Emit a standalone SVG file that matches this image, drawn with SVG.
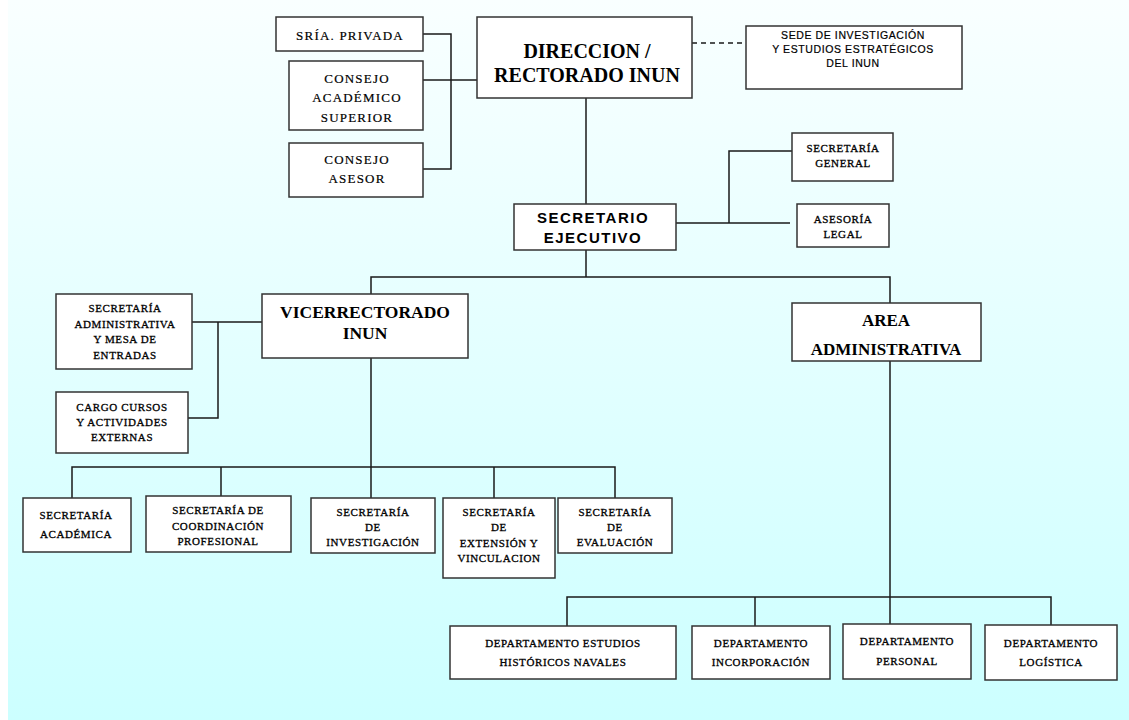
<svg xmlns="http://www.w3.org/2000/svg" width="1129" height="720" viewBox="0 0 1129 720">
  <defs>
    <linearGradient id="bg" x1="0" y1="0" x2="0" y2="1">
      <stop offset="0" stop-color="#f9ffff"/>
      <stop offset="1" stop-color="#ccffff"/>
    </linearGradient>
  </defs>
  <style>
    .box { fill: #ffffff; stroke: #333333; stroke-width: 1.5; }
    .ln { fill: none; stroke: #1a1a1a; stroke-width: 1.5; }
    .dash { fill: none; stroke: #1a1a1a; stroke-width: 1.3; stroke-dasharray: 5 4; }
    text { text-anchor: middle; dominant-baseline: central; fill: #000; }
    .big { font-family: "Liberation Serif", "Times New Roman", serif; font-weight: bold; font-size: 20px; }
    .vr { font-family: "Liberation Serif", "Times New Roman", serif; font-weight: bold; font-size: 17.5px; }
    .mid { font-family: "Liberation Serif", "Times New Roman", serif; font-weight: bold; font-size: 17px; }
    .sans { font-family: "Liberation Sans", Arial, sans-serif; font-weight: bold; font-size: 15px; letter-spacing: 1.5px; }
    .sede { font-family: "Liberation Sans", Arial, sans-serif; font-size: 10.5px; letter-spacing: 0.6px; stroke: #000; stroke-width: 0.2; }
    .med { font-family: "Liberation Serif", "Times New Roman", serif; font-size: 13px; letter-spacing: 1.2px; stroke: #000; stroke-width: 0.2; }
    .sm { font-family: "Liberation Serif", "Times New Roman", serif; font-size: 11px; letter-spacing: 0.6px; stroke: #000; stroke-width: 0.3; }
  </style>

  <!-- background -->
  <rect x="0" y="0" width="1129" height="720" fill="#ffffff"/>
  <rect x="8" y="0" width="1121" height="720" fill="url(#bg)"/>

  <!-- connectors -->
  <g id="connectors">
    <!-- staff units of the direction -->
    <polyline class="ln" points="423,34 451,34 451,169 423,169"/>
    <line class="ln" x1="423" y1="80" x2="477" y2="80"/>
    <line class="dash" x1="692" y1="43" x2="746" y2="43"/>
    <!-- direction to executive secretary -->
    <line class="ln" x1="586" y1="98" x2="586" y2="204"/>
    <!-- executive secretary staff -->
    <line class="ln" x1="676" y1="223" x2="790" y2="223"/>
    <polyline class="ln" points="729,223 729,151 792,151"/>
    <!-- executive secretary to main branches -->
    <line class="ln" x1="586" y1="250" x2="586" y2="277"/>
    <polyline class="ln" points="371,294 371,277 890,277 890,303"/>
    <!-- vice-rectorate staff -->
    <line class="ln" x1="192" y1="322" x2="262" y2="322"/>
    <polyline class="ln" points="218,322 218,418 188,418"/>
    <!-- vice-rectorate secretariats -->
    <line class="ln" x1="371" y1="358" x2="371" y2="498"/>
    <polyline class="ln" points="72,498 72,467 615,467 615,498"/>
    <line class="ln" x1="221" y1="467" x2="221" y2="496"/>
    <line class="ln" x1="494" y1="467" x2="494" y2="498"/>
    <!-- administrative departments -->
    <line class="ln" x1="890" y1="361" x2="890" y2="625"/>
    <polyline class="ln" points="567,626 567,597 1051,597 1051,625"/>
    <line class="ln" x1="755" y1="597" x2="755" y2="626"/>
  </g>

  <g id="sria-privada">
    <rect class="box" x="276" y="17" width="147" height="34"/>
    <text class="med" x="350" y="35">SRÍA. PRIVADA</text>
  </g>
  <g id="consejo-academico">
    <rect class="box" x="289" y="61" width="134" height="69"/>
    <text class="med" x="357" y="78">CONSEJO</text>
    <text class="med" x="357" y="97">ACADÉMICO</text>
    <text class="med" x="357" y="117">SUPERIOR</text>
  </g>
  <g id="consejo-asesor">
    <rect class="box" x="289" y="143" width="134" height="54"/>
    <text class="med" x="357" y="159">CONSEJO</text>
    <text class="med" x="357" y="178">ASESOR</text>
  </g>
  <g id="direccion">
    <rect class="box" x="477" y="17" width="215" height="81"/>
    <text class="big" x="587" y="51">DIRECCION /</text>
    <text class="big" x="587" y="75">RECTORADO INUN</text>
  </g>
  <g id="sede">
    <rect class="box" x="746" y="26" width="216" height="63"/>
    <text class="sede" x="853" y="35">SEDE DE INVESTIGACIÓN</text>
    <text class="sede" x="853" y="49">Y ESTUDIOS ESTRATÉGICOS</text>
    <text class="sede" x="853" y="63">DEL INUN</text>
  </g>
  <g id="secretario-ejecutivo">
    <rect class="box" x="514" y="204" width="162" height="46"/>
    <text class="sans" x="593" y="217">SECRETARIO</text>
    <text class="sans" x="593" y="237">EJECUTIVO</text>
  </g>
  <g id="secretaria-general">
    <rect class="box" x="792" y="133" width="101" height="48"/>
    <text class="sm" x="843" y="148">SECRETARÍA</text>
    <text class="sm" x="843" y="163">GENERAL</text>
  </g>
  <g id="asesoria-legal">
    <rect class="box" x="797" y="204" width="92" height="43"/>
    <text class="sm" x="843" y="219">ASESORÍA</text>
    <text class="sm" x="843" y="234">LEGAL</text>
  </g>
  <g id="vicerrectorado">
    <rect class="box" x="262" y="294" width="206" height="64"/>
    <text class="vr" x="365" y="312">VICERRECTORADO</text>
    <text class="vr" x="365" y="333">INUN</text>
  </g>
  <g id="area-administrativa">
    <rect class="box" x="792" y="303" width="189" height="58"/>
    <text class="mid" x="886" y="320">AREA</text>
    <text class="mid" x="886" y="349">ADMINISTRATIVA</text>
  </g>
  <g id="secretaria-administrativa">
    <rect class="box" x="56" y="294" width="136" height="75"/>
    <text class="sm" x="125" y="308">SECRETARÍA</text>
    <text class="sm" x="125" y="324">ADMINISTRATIVA</text>
    <text class="sm" x="125" y="339">Y MESA DE</text>
    <text class="sm" x="125" y="355">ENTRADAS</text>
  </g>
  <g id="cargo-cursos">
    <rect class="box" x="56" y="392" width="132" height="61"/>
    <text class="sm" x="122" y="407">CARGO CURSOS</text>
    <text class="sm" x="122" y="422">Y ACTIVIDADES</text>
    <text class="sm" x="122" y="437">EXTERNAS</text>
  </g>
  <g id="secretaria-academica">
    <rect class="box" x="23" y="498" width="108" height="54"/>
    <text class="sm" x="76" y="515">SECRETARÍA</text>
    <text class="sm" x="76" y="534">ACADÉMICA</text>
  </g>
  <g id="secretaria-coordinacion">
    <rect class="box" x="146" y="496" width="145" height="56"/>
    <text class="sm" x="218" y="510">SECRETARÍA DE</text>
    <text class="sm" x="218" y="526">COORDINACIÓN</text>
    <text class="sm" x="218" y="541">PROFESIONAL</text>
  </g>
  <g id="secretaria-investigacion">
    <rect class="box" x="311" y="498" width="124" height="55"/>
    <text class="sm" x="373" y="512">SECRETARÍA</text>
    <text class="sm" x="373" y="527">DE</text>
    <text class="sm" x="373" y="542">INVESTIGACIÓN</text>
  </g>
  <g id="secretaria-extension">
    <rect class="box" x="443" y="498" width="112" height="80"/>
    <text class="sm" x="499" y="512">SECRETARÍA</text>
    <text class="sm" x="499" y="527">DE</text>
    <text class="sm" x="499" y="543">EXTENSIÓN Y</text>
    <text class="sm" x="499" y="558">VINCULACION</text>
  </g>
  <g id="secretaria-evaluacion">
    <rect class="box" x="558" y="498" width="114" height="55"/>
    <text class="sm" x="615" y="512">SECRETARÍA</text>
    <text class="sm" x="615" y="527">DE</text>
    <text class="sm" x="615" y="542">EVALUACIÓN</text>
  </g>
  <g id="dep-historicos">
    <rect class="box" x="450" y="626" width="226" height="53"/>
    <text class="sm" x="563" y="643">DEPARTAMENTO ESTUDIOS</text>
    <text class="sm" x="563" y="662">HISTÓRICOS NAVALES</text>
  </g>
  <g id="dep-incorporacion">
    <rect class="box" x="692" y="626" width="138" height="53"/>
    <text class="sm" x="761" y="643">DEPARTAMENTO</text>
    <text class="sm" x="761" y="662">INCORPORACIÓN</text>
  </g>
  <g id="dep-personal">
    <rect class="box" x="843" y="624" width="128" height="55"/>
    <text class="sm" x="907" y="641">DEPARTAMENTO</text>
    <text class="sm" x="907" y="661">PERSONAL</text>
  </g>
  <g id="dep-logistica">
    <rect class="box" x="985" y="625" width="132" height="55"/>
    <text class="sm" x="1051" y="643">DEPARTAMENTO</text>
    <text class="sm" x="1051" y="662">LOGÍSTICA</text>
  </g>
</svg>
